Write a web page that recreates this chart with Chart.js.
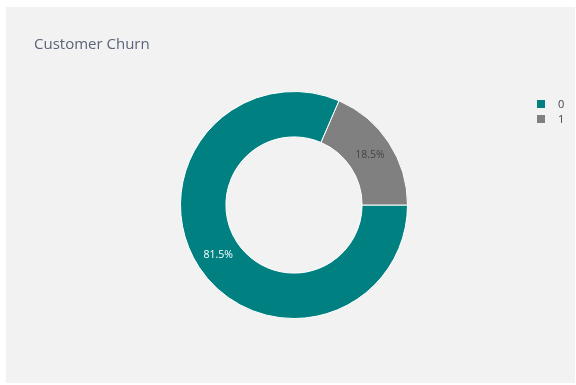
<!DOCTYPE html>
<html>
<head>
<meta charset="utf-8">
<script src="https://cdn.jsdelivr.net/npm/chart.js@4"></script>
<style>
 body{margin:0;background:#fff;font-family:"Open Sans",sans-serif}
 #panel{position:absolute;left:6px;top:7px;width:569px;height:376px;background:#f2f2f2}
 #legend{position:absolute;left:531px;top:89px;font-size:11px;color:#444;line-height:15px}
 #legend div{display:flex;align-items:center}
 #legend span.box{width:8px;height:8px;margin-right:13px;display:inline-block}
</style>
</head>
<body>
<div id="panel">
 <canvas id="churnChart" width="569" height="376"></canvas>
 <div id="legend"></div>
</div>
<script>
const labels=["0","1"]
const share=[81.5,18.5]
const colors=["#008080","#808080"]
const textColors=["#ffffff","#444444"]

// percent text in the middle of each slice
const sliceText={
 id:"sliceText",
 afterDatasetsDraw(chart){
  const ctx=chart.ctx
  ctx.save()
  ctx.font='10.5px "Open Sans"'
  ctx.textAlign="center"
  ctx.textBaseline="middle"
  chart.getDatasetMeta(0).data.forEach((arc,i)=>{
   const p=arc.getCenterPoint()
   ctx.fillStyle=textColors[i]
   ctx.fillText(share[i].toFixed(1)+"%",p.x,p.y)
  })
  ctx.restore()
 }
}

new Chart(document.getElementById("churnChart"),{
 type:"doughnut",
 data:{
  labels:labels,
  datasets:[{
   data:share,
   backgroundColor:colors,
   borderColor:"#ffffff",
   borderWidth:1,
   hoverOffset:0
  }]
 },
 options:{
  responsive:false,
  animation:false,
  cutout:"60%",
  rotation:90,
  layout:{padding:{left:28,right:21,top:0,bottom:64}},
  plugins:{
   legend:{display:false},
   tooltip:{enabled:false},
   title:{
    display:true,
    text:"Customer Churn",
    align:"start",
    color:"#5a6478",
    font:{family:"Open Sans",size:15,weight:"normal"},
    padding:{top:29,bottom:37}
   }
  }
 },
 plugins:[sliceText]
})

// legend rows
const legend=document.getElementById("legend")
labels.forEach((l,i)=>{
 const row=document.createElement("div")
 row.innerHTML='<span class="box" style="background:'+colors[i]+'"></span>'+l
 legend.appendChild(row)
})
</script>
</body>
</html>
